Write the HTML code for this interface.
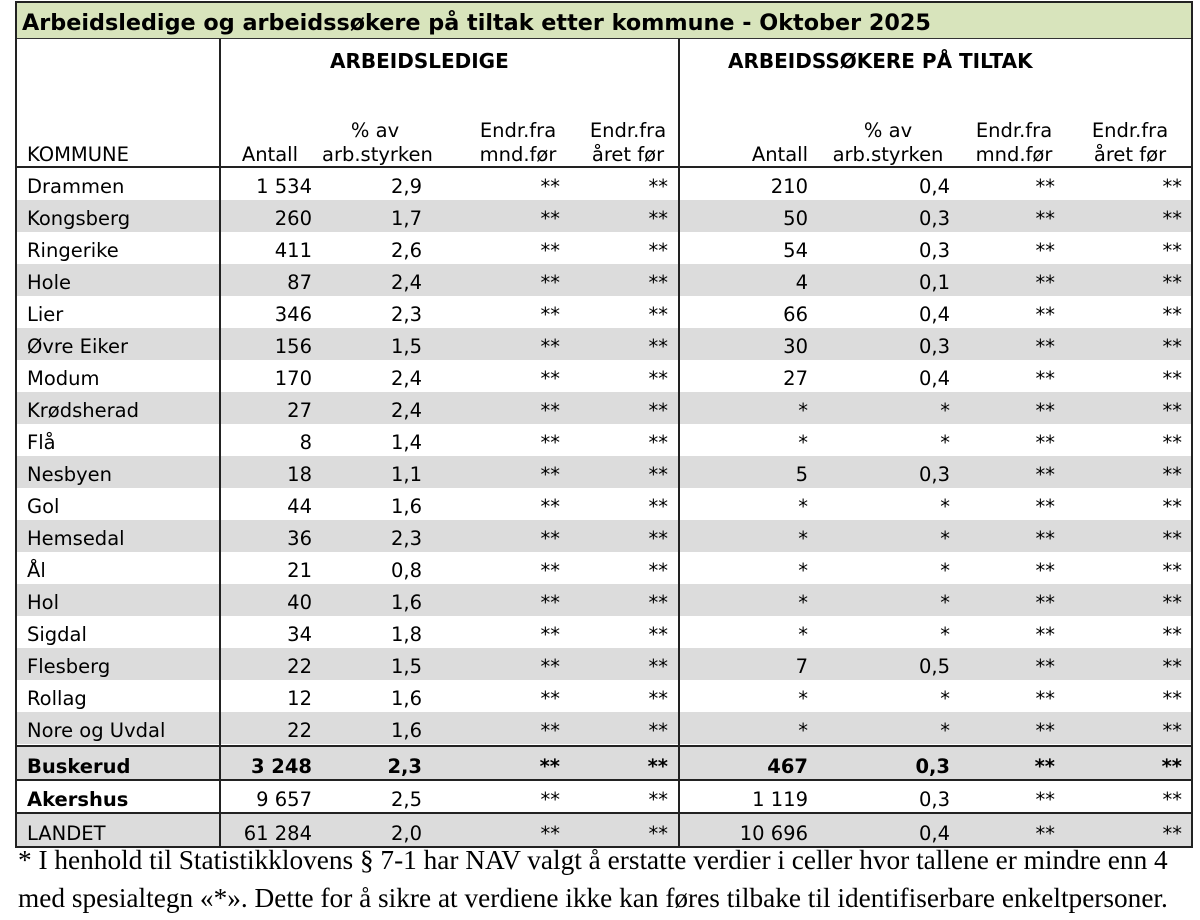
<!DOCTYPE html>
<html><head><meta charset="utf-8">
<style>
body{margin:0;width:1200px;height:920px;background:#fff;position:relative;overflow:hidden;font-family:"DejaVu Sans","Liberation Sans",sans-serif;color:#000}
.a{position:absolute}
.title{left:15px;top:2px;width:1177px;height:37px;background:#d8e4bc;border-bottom:1.5px solid #333;font-weight:bold;font-size:22.3px;line-height:43px;padding-left:7px;box-sizing:border-box;white-space:nowrap}
.vl{position:absolute;width:1.5px;background:#222}
.hl{position:absolute;height:1.5px;background:#222;left:15px;width:1178px}
.r{position:absolute;left:16px;width:1176px;height:32px;font-size:19.5px;line-height:38px}
.g{background:#dcdcdc}
.r span{position:absolute;white-space:nowrap}
.k{left:11px}
.c1{right:880px}.c2{right:770px}.c3{right:632px}.c4{right:524px}
.c5{right:384px}.c6{right:242px}.c7{right:137px}.c8{right:10px}
.b{font-weight:bold}
.hd{position:absolute;font-size:19.5px;line-height:24px;text-align:center;white-space:nowrap}
.foot{position:absolute;left:18px;font-family:"Liberation Serif",serif;font-size:27.3px;white-space:nowrap}
</style></head><body>
<div class="a title">Arbeidsledige og arbeidssøkere på tiltak etter kommune - Oktober 2025</div>
<div class="a b" style="left:330px;top:49px;font-size:20px">ARBEIDSLEDIGE</div>
<div class="a b" style="left:728px;top:49px;font-size:20px">ARBEIDSSØKERE PÅ TILTAK</div>
<div class="hd" style="left:27px;top:143px">KOMMUNE</div>
<div class="hd" style="right:902px;top:143px">Antall</div>
<div class="hd" style="left:322px;top:119px;width:106px">% av<br>arb.styrken</div>
<div class="hd" style="left:472px;top:119px;width:92px">Endr.fra<br>mnd.før</div>
<div class="hd" style="left:582px;top:119px;width:92px">Endr.fra<br>året før</div>
<div class="hd" style="right:392px;top:143px">Antall</div>
<div class="hd" style="left:830px;top:119px;width:116px">% av<br>arb.styrken</div>
<div class="hd" style="left:968px;top:119px;width:92px">Endr.fra<br>mnd.før</div>
<div class="hd" style="left:1084px;top:119px;width:92px">Endr.fra<br>året før</div>

<div class="r" style="top:168px"><span class="k">Drammen</span><span class="c1">1 534</span><span class="c2">2,9</span><span class="c3">**</span><span class="c4">**</span><span class="c5">210</span><span class="c6">0,4</span><span class="c7">**</span><span class="c8">**</span></div>
<div class="r g" style="top:200px"><span class="k">Kongsberg</span><span class="c1">260</span><span class="c2">1,7</span><span class="c3">**</span><span class="c4">**</span><span class="c5">50</span><span class="c6">0,3</span><span class="c7">**</span><span class="c8">**</span></div>
<div class="r" style="top:232px"><span class="k">Ringerike</span><span class="c1">411</span><span class="c2">2,6</span><span class="c3">**</span><span class="c4">**</span><span class="c5">54</span><span class="c6">0,3</span><span class="c7">**</span><span class="c8">**</span></div>
<div class="r g" style="top:264px"><span class="k">Hole</span><span class="c1">87</span><span class="c2">2,4</span><span class="c3">**</span><span class="c4">**</span><span class="c5">4</span><span class="c6">0,1</span><span class="c7">**</span><span class="c8">**</span></div>
<div class="r" style="top:296px"><span class="k">Lier</span><span class="c1">346</span><span class="c2">2,3</span><span class="c3">**</span><span class="c4">**</span><span class="c5">66</span><span class="c6">0,4</span><span class="c7">**</span><span class="c8">**</span></div>
<div class="r g" style="top:328px"><span class="k">Øvre Eiker</span><span class="c1">156</span><span class="c2">1,5</span><span class="c3">**</span><span class="c4">**</span><span class="c5">30</span><span class="c6">0,3</span><span class="c7">**</span><span class="c8">**</span></div>
<div class="r" style="top:360px"><span class="k">Modum</span><span class="c1">170</span><span class="c2">2,4</span><span class="c3">**</span><span class="c4">**</span><span class="c5">27</span><span class="c6">0,4</span><span class="c7">**</span><span class="c8">**</span></div>
<div class="r g" style="top:392px"><span class="k">Krødsherad</span><span class="c1">27</span><span class="c2">2,4</span><span class="c3">**</span><span class="c4">**</span><span class="c5">*</span><span class="c6">*</span><span class="c7">**</span><span class="c8">**</span></div>
<div class="r" style="top:424px"><span class="k">Flå</span><span class="c1">8</span><span class="c2">1,4</span><span class="c3">**</span><span class="c4">**</span><span class="c5">*</span><span class="c6">*</span><span class="c7">**</span><span class="c8">**</span></div>
<div class="r g" style="top:456px"><span class="k">Nesbyen</span><span class="c1">18</span><span class="c2">1,1</span><span class="c3">**</span><span class="c4">**</span><span class="c5">5</span><span class="c6">0,3</span><span class="c7">**</span><span class="c8">**</span></div>
<div class="r" style="top:488px"><span class="k">Gol</span><span class="c1">44</span><span class="c2">1,6</span><span class="c3">**</span><span class="c4">**</span><span class="c5">*</span><span class="c6">*</span><span class="c7">**</span><span class="c8">**</span></div>
<div class="r g" style="top:520px"><span class="k">Hemsedal</span><span class="c1">36</span><span class="c2">2,3</span><span class="c3">**</span><span class="c4">**</span><span class="c5">*</span><span class="c6">*</span><span class="c7">**</span><span class="c8">**</span></div>
<div class="r" style="top:552px"><span class="k">Ål</span><span class="c1">21</span><span class="c2">0,8</span><span class="c3">**</span><span class="c4">**</span><span class="c5">*</span><span class="c6">*</span><span class="c7">**</span><span class="c8">**</span></div>
<div class="r g" style="top:584px"><span class="k">Hol</span><span class="c1">40</span><span class="c2">1,6</span><span class="c3">**</span><span class="c4">**</span><span class="c5">*</span><span class="c6">*</span><span class="c7">**</span><span class="c8">**</span></div>
<div class="r" style="top:616px"><span class="k">Sigdal</span><span class="c1">34</span><span class="c2">1,8</span><span class="c3">**</span><span class="c4">**</span><span class="c5">*</span><span class="c6">*</span><span class="c7">**</span><span class="c8">**</span></div>
<div class="r g" style="top:648px"><span class="k">Flesberg</span><span class="c1">22</span><span class="c2">1,5</span><span class="c3">**</span><span class="c4">**</span><span class="c5">7</span><span class="c6">0,5</span><span class="c7">**</span><span class="c8">**</span></div>
<div class="r" style="top:680px"><span class="k">Rollag</span><span class="c1">12</span><span class="c2">1,6</span><span class="c3">**</span><span class="c4">**</span><span class="c5">*</span><span class="c6">*</span><span class="c7">**</span><span class="c8">**</span></div>
<div class="r g" style="top:712px"><span class="k">Nore og Uvdal</span><span class="c1">22</span><span class="c2">1,6</span><span class="c3">**</span><span class="c4">**</span><span class="c5">*</span><span class="c6">*</span><span class="c7">**</span><span class="c8">**</span></div>
<div class="r g b" style="top:746px;height:34px;line-height:42px"><span class="k">Buskerud</span><span class="c1">3 248</span><span class="c2">2,3</span><span class="c3">**</span><span class="c4">**</span><span class="c5">467</span><span class="c6">0,3</span><span class="c7">**</span><span class="c8">**</span></div>
<div class="r" style="top:781px"><span class="k b">Akershus</span><span class="c1">9 657</span><span class="c2">2,5</span><span class="c3">**</span><span class="c4">**</span><span class="c5">1 119</span><span class="c6">0,3</span><span class="c7">**</span><span class="c8">**</span></div>
<div class="r g" style="top:813px;height:33px;line-height:42px"><span class="k">LANDET</span><span class="c1">61 284</span><span class="c2">2,0</span><span class="c3">**</span><span class="c4">**</span><span class="c5">10 696</span><span class="c6">0,4</span><span class="c7">**</span><span class="c8">**</span></div>

<div class="hl" style="top:1px"></div>
<div class="hl" style="top:166px"></div>
<div class="hl" style="top:745px"></div>
<div class="hl" style="top:779px"></div>
<div class="hl" style="top:812px"></div>
<div class="hl" style="top:846px;height:2px"></div>
<div class="vl" style="left:15px;top:1px;height:847px"></div>
<div class="vl" style="left:219px;top:39px;height:809px"></div>
<div class="vl" style="left:678px;top:39px;height:809px"></div>
<div class="vl" style="left:1191px;top:1px;height:847px"></div>

<div class="foot" style="top:845px">* I henhold til Statistikklovens § 7-1 har NAV valgt å erstatte verdier i celler hvor tallene er mindre enn 4</div>
<div class="foot" style="top:883px">med spesialtegn «*». Dette for å sikre at verdiene ikke kan føres tilbake til identifiserbare enkeltpersoner.</div>
</body></html>
